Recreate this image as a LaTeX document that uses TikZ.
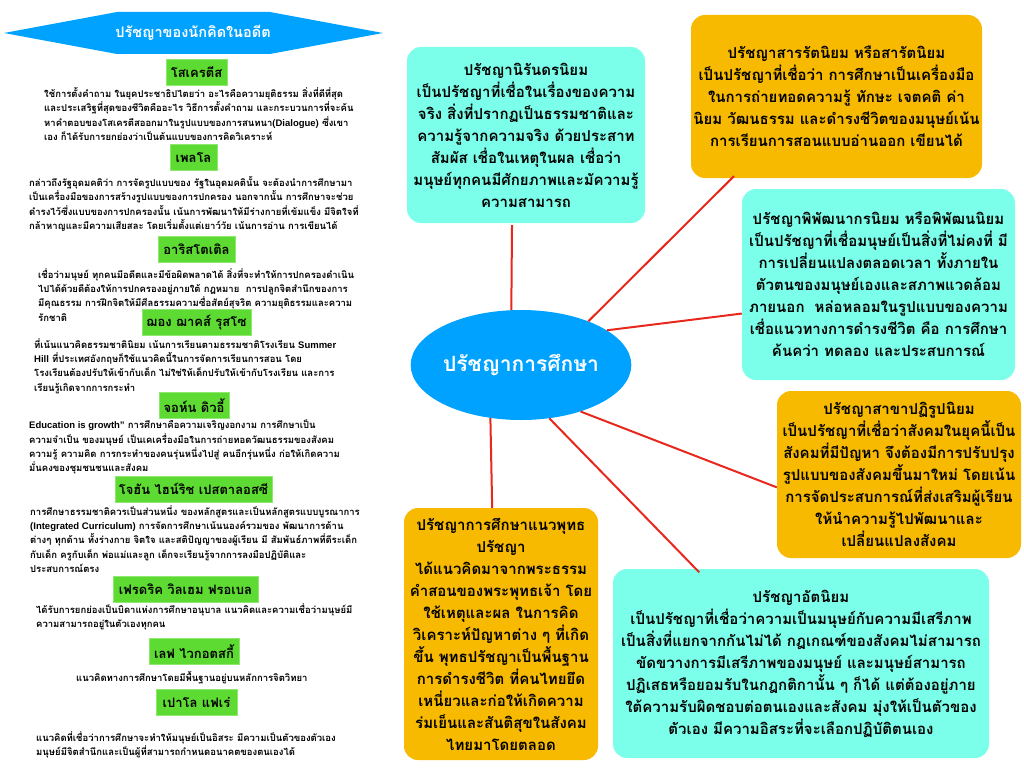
\documentclass[tikz,border=0pt]{standalone}
\usepackage{fontspec}
\setmainfont[Script=Thai]{Loma}
\newfontfamily\latinfont{Liberation Sans}
\usetikzlibrary{shapes.geometric}
\definecolor{boxcyan}{HTML}{7CFFEA}
\definecolor{boxorange}{HTML}{F8BA00}
\definecolor{corblue}{HTML}{00A2FF}
\definecolor{namegreen}{HTML}{5DDB33}
\definecolor{namerim}{HTML}{8FE870}
\definecolor{linkred}{HTML}{E8281C}
\tikzset{
    bigbox/.style={rounded corners=14pt, align=center, inner sep=0pt, font=\fontsize{15}{22}\selectfont\bfseries},
    cyanbox/.style={bigbox, fill=boxcyan},
    orangebox/.style={bigbox, fill=boxorange},
    namebox/.style={fill=namegreen, draw=namerim, line width=0.8pt, inner sep=0pt, minimum height=26pt, font=\fontsize{13}{16}\selectfont\bfseries},
    notetext/.style={anchor=west, align=left, inner sep=0pt, font=\fontsize{9.5}{14.2}\selectfont\bfseries},
    link/.style={draw=linkred, line width=2pt}
}
\begin{document}
\begin{tikzpicture}[x=1pt, y=-1pt]
\useasboundingbox (0,0) rectangle (1024,768);

% Banner
\fill[corblue] (4,33) -- (117,12) -- (270,12) -- (383,33) -- (270,54) -- (117,54) -- cycle;
\node[text=white, inner sep=0pt, font=\fontsize{14.5}{18}\selectfont\bfseries] (banner) at (193,33) {ปรัชญาของนักคิดในอดีต};

% Thinkers
\node[namebox, minimum width=61pt] (socrates) at (196.5,72) {โสเครตีส};
\node[notetext] (socratesnote) at (44,114) {ใช้การตั้งคำถาม ในยุคประชาธิปไตยว่า อะไรคือความยุติธรรม สิ่งที่ดีที่สุด\\และประเสริฐที่สุดของชีวิตคืออะไร วิธีการตั้งคำถาม และกระบวนการที่จะค้น\\หาคำตอบของโสเครตีสออกมาในรูปแบบของการสนทนา({\latinfont Dialogue}) ซึ่งเขา\\เอง ก็ได้รับการยกย่องว่าเป็นต้นแบบของการคิดวิเคราะห์};

\node[namebox, minimum width=47pt] (plato) at (193.5,157.5) {เพลโล};
\node[notetext] (platonote) at (29,204) {กล่าวถึงรัฐอุดมคติว่า การจัดรูปแบบของ รัฐในอุดมคตินั้น จะต้องนำการศึกษามา\\เป็นเครื่องมือของการสร้างรูปแบบของการปกครอง นอกจากนั้น การศึกษาจะช่วย\\ดำรงไว้ซึ่งแบบของการปกครองนั้น เน้นการพัฒนาให้มีร่างกายที่เข้มแข็ง มีจิตใจที่\\กล้าหาญและมีความเสียสละ โดยเริ่มตั้งแต่เยาว์วัย เน้นการอ่าน การเขียนได้};

\node[namebox, minimum width=77pt] (aristotle) at (196.5,249) {อาริสโตเติล};
\node[notetext] (aristotlenote) at (38,295) {เชื่อว่ามนุษย์ ทุกคนมีอดีตและมีข้อผิดพลาดได้ สิ่งที่จะทำให้การปกครองดำเนิน\\ไปได้ด้วยดีต้องให้การปกครองอยู่ภายใต้ กฎหมาย\ \ การปลูกจิตสำนึกของการ\\มีคุณธรรม การฝึกจิตให้มีศีลธรรมความซื่อสัตย์สุจริต ความยุติธรรมและความ\\รักชาติ};

\node[namebox, minimum width=109pt] (rousseau) at (196.5,322.5) {ฌอง ฌาคส์ รุสโซ};
\node[notetext] (rousseaunote) at (34,366) {ที่เน้นแนวคิดธรรมชาตินิยม เน้นการเรียนตามธรรมชาติโรงเรียน {\latinfont Summer}\\{\latinfont Hill} ที่ประเทศอังกฤษก็ใช้แนวคิดนี้ในการจัดการเรียนการสอน โดย\\โรงเรียนต้องปรับให้เข้ากับเด็ก ไม่ใช่ให้เด็กปรับให้เข้ากับโรงเรียน และการ\\เรียนรู้เกิดจากการกระทำ};

\node[namebox, minimum width=70pt] (dewey) at (194,405.5) {จอห์น ดิวอี้};
\node[notetext] (deweynote) at (29,447) {{\latinfont Education is growth”} การศึกษาคือความเจริญงอกงาม การศึกษาเป็น\\ความจำเป็น ของมนุษย์ เป็นเคเครื่องมือในการถ่ายทอดวัฒนธรรมของสังคม\\ความรู้ ความคิด การกระทำของคนรุ่นหนึ่งไปสู่ คนอีกรุ่นหนึ่ง ก่อให้เกิดความ\\มั่นคงของชุมชนชนและสังคม};

\node[namebox, minimum width=157pt] (pestalozzi) at (193.5,489) {โจฮัน ไฮน์ริช เปสตาลอสซี};
\node[notetext] (pestalozzinote) at (30,539) {การศึกษาธรรมชาติควรเป็นส่วนหนึ่ง ของหลักสูตรและเป็นหลักสูตรแบบบูรณาการ\\{\latinfont (Integrated Curriculum)} การจัดการศึกษาเน้นนองค์รวมของ พัฒนาการด้าน\\ต่างๆ ทุกด้าน ทั้งร่างกาย จิตใจ และสติปัญญาของผู้เรียน มี สัมพันธ์ภาพที่ดีระเด็ก\\กับเด็ก ครูกับเด็ก พ่อแม่และลูก เด็กจะเรียนรู้จากการลงมือปฏิบัติและ\\ประสบการณ์ตรง};

\node[namebox, minimum width=145pt] (froebel) at (185.5,589.5) {เฟรดริค วิลเฮม ฟรอเบล};
\node[notetext] (froebelnote) at (36,617) {ได้รับการยกย่องเป็นบิดาแห่งการศึกษาอนุบาล แนวคิดและความเชื่อว่ามนุษย์มี\\ความสามารถอยู่ในตัวเองทุกคน};

\node[namebox, minimum width=90pt] (vygotsky) at (194,651.5) {เลฟ ไวกอตสกี้};
\node[notetext] (vygotskynote) at (76,678) {แนวคิดทางการศึกษาโดยมีพื้นฐานอยู่บนหลักการจิตวิทยา};

\node[namebox, minimum width=81pt] (freire) at (196.5,702.5) {เปาโล แฟเร่};
\node[notetext] (freirenote) at (36,745) {แนวคิดที่เชื่อว่าการศึกษาจะทำให้มนุษย์เป็นอิสระ มีความเป็นตัวของตัวเอง\\มนุษย์มีจิตสำนึกและเป็นผู้ที่สามารถกำหนดอนาคตของตนเองได้};

% Centre
\node[ellipse, fill=corblue, text=white, minimum width=218pt, minimum height=110pt, inner sep=0pt, font=\fontsize{21}{24}\selectfont\bfseries] (core) at (521,365) {ปรัชญาการศึกษา};

% Schools
\node[cyanbox, minimum width=238pt, minimum height=176pt] (nirantara) at (526,135) {ปรัชญานิรันดรนิยม\\เป็นปรัชญาที่เชื่อในเรื่องของความ\\จริง สิ่งที่ปรากฏเป็นธรรมชาติและ\\ความรู้จากความจริง ด้วยประสาท\\สัมผัส เชื่อในเหตุในผล เชื่อว่า\\มนุษย์ทุกคนมีศักยภาพและมัความรู้\\ความสามารถ};
\node[orangebox, minimum width=291pt, minimum height=163pt] (sarat) at (836.5,96.5) {ปรัชญาสารรัตนิยม หรือสารัตนิยม\\เป็นปรัชญาที่เชื่อว่า การศึกษาเป็นเครื่องมือ\\ในการถ่ายทอดความรู้ ทักษะ เจตคติ ค่า\\นิยม วัฒนธรรม และดำรงชีวิตของมนุษย์เน้น\\การเรียนการสอนแบบอ่านออก เขียนได้};
\node[cyanbox, minimum width=273pt, minimum height=191pt] (pipat) at (878.5,284.5) {ปรัชญาพิพัฒนากรนิยม หรือพิพัฒนนิยม\\เป็นปรัชญาที่เชื่อมนุษย์เป็นสิ่งที่ไม่คงที่ มี\\การเปลี่ยนแปลงตลอดเวลา ทั้งภายใน\\ตัวตนของมนุษย์เองและสภาพแวดล้อม\\ภายนอก\ \ หล่อหลอมในรูปแบบของความ\\เชื่อแนวทางการดำรงชีวิต คือ การศึกษา\\ค้นคว่า ทดลอง และประสบการณ์};
\node[orangebox, minimum width=244pt, minimum height=167pt] (reform) at (899,474.5) {ปรัชญาสาขาปฏิรูปนิยม\\เป็นปรัชญาที่เชื่อว่าสังคมในยุคนี้เป็น\\สังคมที่มีปัญหา จึงต้องมีการปรับปรุง\\รูปแบบของสังคมขึ้นมาใหม่ โดยเน้น\\การจัดประสบการณ์ที่ส่งเสริมผู้เรียน\\ให้นำความรู้ไปพัฒนาและ\\เปลี่ยนแปลงสังคม};
\node[cyanbox, minimum width=376pt, minimum height=189pt] (atta) at (801,663.5) {ปรัชญาอัตนิยม\\เป็นปรัชญาที่เชื่อว่าความเป็นมนุษย์กับความมีเสรีภาพ\\เป็นสิ่งที่แยกจากกันไม่ได้ กฎเกณฑ์ของสังคมไม่สามารถ\\ขัดขวางการมีเสรีภาพของมนุษย์ และมนุษย์สามารถ\\ปฏิเสธหรือยอมรับในกฎกติกานั้น ๆ ก็ได้ แต่ต้องอยู่ภาย\\ใต้ความรับผิดชอบต่อตนเองและสังคม มุ่งให้เป็นตัวของ\\ตัวเอง มีความอิสระที่จะเลือกปฏิบัติตนเอง};
\node[orangebox, minimum width=194pt, minimum height=252pt] (buddha) at (501,634) {ปรัชญาการศึกษาแนวพุทธ\\ปรัชญา\\ได้แนวคิดมาจากพระธรรม\\คำสอนของพระพุทธเจ้า โดย\\ใช้เหตุและผล ในการคิด\\วิเคราะห์ปัญหาต่าง ๆ ที่เกิด\\ขึ้น พุทธปรัชญาเป็นพื้นฐาน\\การดำรงชีวิต ที่คนไทยยึด\\เหนี่ยวและก่อให้เกิดความ\\ร่มเย็นและสันติสุขในสังคม\\ไทยมาโดยตลอด};

% Connections
\draw[link, shorten >=2pt] (core.100) -- (nirantara.261.5);
\draw[link, shorten >=-3pt] (core.33) -- (sarat.218);
\draw[link] (core.22) -- (pipat.192.2);
\draw[link] (core.-38.4) -- (reform.186.8);
\draw[link, shorten >=-5pt] (core.-62) -- (atta.138.2);
\draw[link] (core.240) -- (buddha.94.5);

\end{tikzpicture}
\end{document}
